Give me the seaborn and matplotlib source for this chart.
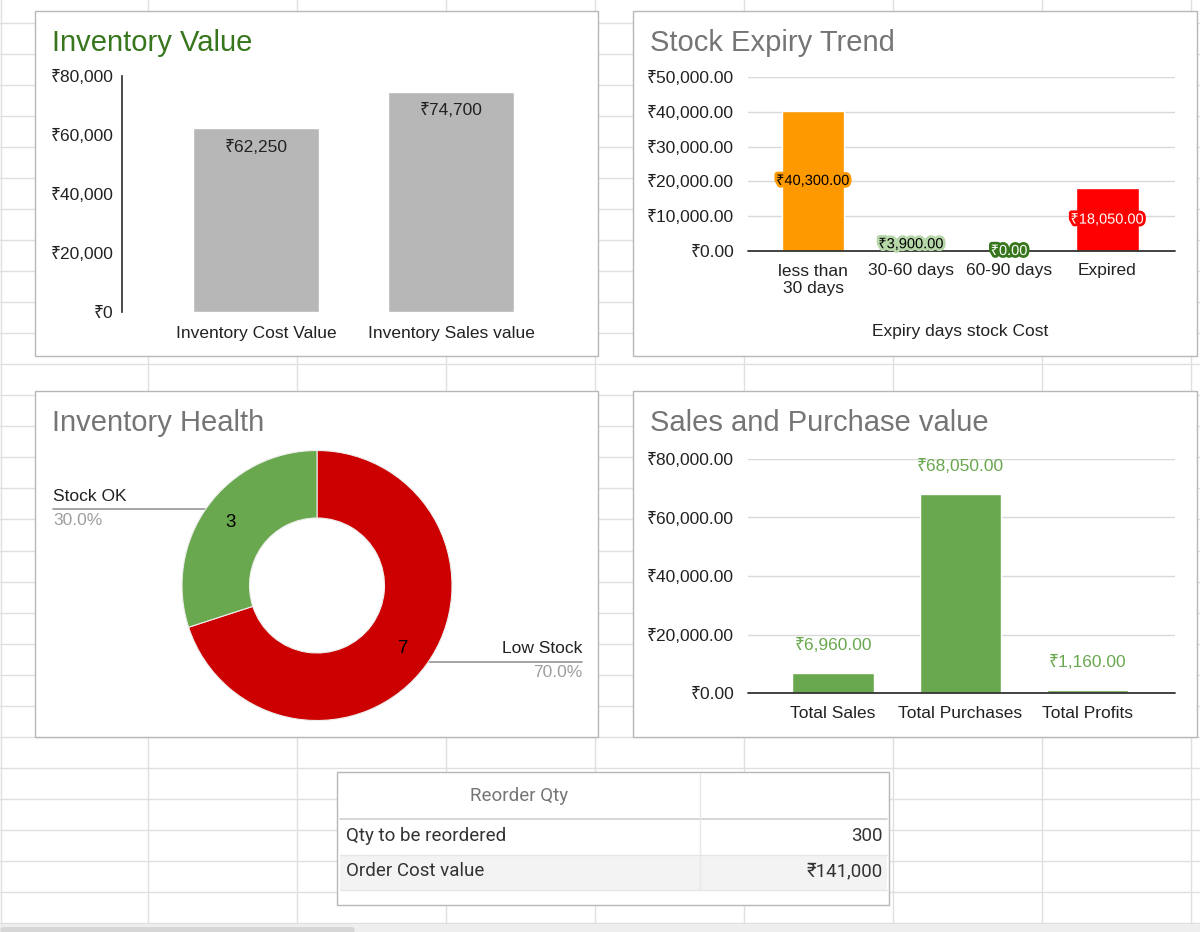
import numpy as np
import seaborn as sns
import matplotlib
matplotlib.use('Agg')
import matplotlib.pyplot as plt
import matplotlib.patheffects as pe
from matplotlib.patches import Rectangle, FancyBboxPatch
from matplotlib.ticker import FuncFormatter

# data
inv_cats = ['Inventory Cost Value', 'Inventory Sales value']
inv_vals = [62250, 74700]

expiry_cats = ['less than\n30 days', '30-60 days', '60-90 days', 'Expired']
expiry_vals = [40300, 3900, 0, 18050]
expiry_colors = ['#ff9900', '#b6d7a8', '#38761d', '#ff0000']
expiry_text = ['black', 'black', 'white', 'white']

health_cats = ['Low Stock', 'Stock OK']
health_vals = [7, 3]
health_colors = ['#cc0000', '#6aa84f']

sp_cats = ['Total Sales', 'Total Purchases', 'Total Profits']
sp_vals = [6960, 68050, 1160]

table_header = 'Reorder Qty'
table_rows = ['Qty to be reordered', 'Order Cost value']
table_vals = ['300', '₹141,000']

W, H = 1200, 932

sns.set_theme(style='white')
plt.rcParams['font.family'] = ['Liberation Sans', 'Noto Sans', 'DejaVu Sans']

fig = plt.figure(figsize=(12, 9.32), dpi=100)
fig.patch.set_facecolor('white')

# background "sheet" in pixel coordinates
bg = fig.add_axes([0, 0, 1, 1])
bg.set_xlim(0, W)
bg.set_ylim(H, 0)
bg.axis('off')

for x in np.arange(148, W, 149):
    bg.axvline(x, color='#e0e0e0', lw=1)
bg.axvline(1, color='#e0e0e0', lw=1)
for y in np.arange(23, 925, 31.03):
    bg.axhline(y, color='#e0e0e0', lw=1)
bg.add_patch(Rectangle((0, 924), W, 8, fc='#eeeeee', ec='none', zorder=3))
bg.add_patch(FancyBboxPatch((0, 927), 355, 6, boxstyle='round,pad=0,rounding_size=4',
                            fc='#d6d6d6', ec='none', zorder=4))

panels = [(35, 11, 598, 356), (633, 11, 1197, 356), (35, 391, 598, 737), (633, 391, 1197, 737)]
for x0, y0, x1, y1 in panels:
    bg.add_patch(Rectangle((x0, y0), x1 - x0, y1 - y0, fc='white', ec='#b7b7b7', lw=1, zorder=3))

TS = 21
bg.text(52, 43, 'Inventory Value', color='#38761d', fontsize=TS, va='center', zorder=5)
bg.text(650, 43, 'Stock Expiry Trend', color='#757575', fontsize=TS, va='center', zorder=5)
bg.text(52, 423, 'Inventory Health', color='#757575', fontsize=TS, va='center', zorder=5)
bg.text(650, 423, 'Sales and Purchase value', color='#757575', fontsize=TS, va='center', zorder=5)


def px_axes(x0, y0, x1, y1):
    ax = fig.add_axes([x0 / W, 1 - y1 / H, (x1 - x0) / W, (y1 - y0) / H])
    ax.set_facecolor('none')
    return ax


def rupee(dec):
    return FuncFormatter(lambda v, p: f'₹{v:,.{dec}f}')


LS = 12.5

# Inventory Value
ax1 = px_axes(122, 76, 585, 312)
sns.barplot(x=inv_cats, y=inv_vals, color='#b7b7b7', saturation=1, width=0.65, ax=ax1)
ax1.set_xlim(-0.687, 1.687)
ax1.set_ylim(0, 80000)
ax1.set_yticks(np.arange(0, 80001, 20000))
ax1.yaxis.set_major_formatter(rupee(0))
for s in ['top', 'right', 'bottom']:
    ax1.spines[s].set_visible(False)
ax1.spines['left'].set_color('#333333')
ax1.tick_params(axis='y', length=0, labelsize=LS, pad=6, colors='#222222')
ax1.tick_params(axis='x', length=0, labelsize=LS, pad=10, colors='#222222')
ax1.set_xlabel('')
ax1.set_ylabel('')
for i, v in enumerate(inv_vals):
    ax1.annotate(f'₹{v:,}', (i, v), xytext=(0, -19), textcoords='offset pixels',
                 ha='center', va='center', fontsize=LS, color='#222222')

# Stock Expiry Trend
ax2 = px_axes(748, 77, 1175, 251)
sns.barplot(x=expiry_cats, y=expiry_vals, hue=expiry_cats, palette=expiry_colors,
            legend=False, saturation=1, width=0.64, ax=ax2)
ax2.set_xlim(-0.663, 3.69)
ax2.set_ylim(0, 50000)
ax2.set_yticks(np.arange(0, 50001, 10000))
ax2.yaxis.set_major_formatter(rupee(2))
ax2.yaxis.grid(True, color='#d9d9d9', lw=1)
ax2.set_axisbelow(True)
sns.despine(ax=ax2, left=True, bottom=True)
ax2.axhline(0, color='#333333', lw=1.3, clip_on=False, zorder=1.5)
ax2.tick_params(axis='y', length=0, labelsize=LS, pad=10, colors='#222222')
ax2.tick_params(axis='x', length=0, labelsize=LS, pad=9, colors='#222222')
ax2.set_ylabel('')
ax2.set_xlabel('Expiry days stock Cost', fontsize=LS, color='#222222')
ax2.xaxis.label.set_va('center')
ax2.xaxis.set_label_coords(0.496, -0.46)
for i, (v, c, tc) in enumerate(zip(expiry_vals, expiry_colors, expiry_text)):
    ax2.text(i, v / 2, f'₹{v:,.2f}', ha='center', va='center', fontsize=10.5, color=tc,
             clip_on=False, zorder=6,
             path_effects=[pe.withStroke(linewidth=4, foreground=c)])

# Inventory Health
cx, cy, r = 317, 585.5, 135
ax3 = px_axes(cx - r, cy - r, cx + r, cy + r)
total = sum(health_vals)
wedges, texts, autotexts = ax3.pie(
    health_vals, colors=health_colors, startangle=90, counterclock=False, radius=1,
    wedgeprops=dict(width=0.5, edgecolor='#eeeeee', linewidth=0.8),
    autopct=lambda p: f'{p * total / 100:.0f}', pctdistance=0.79,
    textprops=dict(fontsize=13.5, color='black'))
ax3.set_xlim(-1, 1)
ax3.set_ylim(-1, 1)
ax3.axis('off')

to_bg = ax3.transData + bg.transData.inverted()
for w, cat, val in zip(wedges, health_cats, health_vals):
    ang = np.deg2rad((w.theta1 + w.theta2) / 2)
    px, py = to_bg.transform((0.96 * np.cos(ang), 0.96 * np.sin(ang)))
    pct = f'{100 * val / total:.1f}%'
    if np.cos(ang) < 0:
        ex, ha = 53, 'left'
    else:
        ex, ha = 582, 'right'
    bg.plot([px, ex], [py, py], color='#9e9e9e', lw=1.3, zorder=6)
    bg.plot(px, py, 'o', ms=4.5, color='#9e9e9e', zorder=7)
    bg.text(ex, py - 13, cat, ha=ha, va='center', fontsize=LS, color='#222222', zorder=6)
    bg.text(ex, py + 11, pct, ha=ha, va='center', fontsize=LS, color='#9e9e9e', zorder=6)

# Sales and Purchase value
ax4 = px_axes(748, 459, 1175, 693)
sns.barplot(x=sp_cats, y=sp_vals, color='#6aa84f', saturation=1, width=0.64, ax=ax4)
ax4.set_xlim(-0.67, 2.69)
ax4.set_ylim(0, 80000)
ax4.set_yticks(np.arange(0, 80001, 20000))
ax4.yaxis.set_major_formatter(rupee(2))
ax4.yaxis.grid(True, color='#d9d9d9', lw=1)
ax4.set_axisbelow(True)
sns.despine(ax=ax4, left=True, bottom=True)
ax4.axhline(0, color='#333333', lw=1.3, clip_on=False, zorder=1.5)
ax4.tick_params(axis='y', length=0, labelsize=LS, pad=10, colors='#222222')
ax4.tick_params(axis='x', length=0, labelsize=LS, pad=9, colors='#222222')
ax4.set_xlabel('')
ax4.set_ylabel('')
for i, v in enumerate(sp_vals):
    ax4.annotate(f'₹{v:,.2f}', (i, v), xytext=(0, 27), textcoords='offset pixels',
                 ha='center', va='center', fontsize=LS, color='#6aa84f')

# Reorder table
tf = ['Roboto', 'DejaVu Sans']
bg.add_patch(Rectangle((337, 772), 552, 133, fc='white', ec='#b7b7b7', lw=1, zorder=3))
bg.add_patch(Rectangle((340, 855), 547, 35, fc='#f3f3f3', ec='none', zorder=4))
bg.plot([340, 887], [819, 819], color='#d0d0d0', lw=1.2, zorder=5)
bg.plot([340, 887], [855, 855], color='#e6e6e6', lw=1, zorder=5)
bg.plot([340, 887], [890, 890], color='#e6e6e6', lw=1, zorder=5)
bg.plot([700, 700], [774, 890], color='#e8e8e8', lw=1, zorder=5)
bg.text(519, 796, table_header, ha='center', va='center', fontsize=13.5, color='#757575',
        family=tf, zorder=6)
for k, (lab, val) in enumerate(zip(table_rows, table_vals)):
    yy = 836 + 35 * k
    bg.text(346, yy, lab, ha='left', va='center', fontsize=13.5, color='#333333', family=tf, zorder=6)
    bg.text(883, yy, val, ha='right', va='center', fontsize=13.5, color='#333333', family=tf, zorder=6)

fig.savefig('out.png', dpi=100)
